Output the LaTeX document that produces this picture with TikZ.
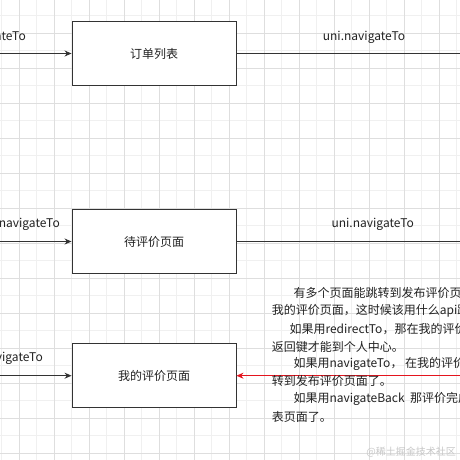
\documentclass[tikz,border=0pt]{standalone}
\usepackage{fontspec}
\setmainfont{Noto Sans CJK SC}
\usetikzlibrary{arrows.meta, positioning}
\definecolor{gridmajor}{RGB}{222, 222, 222}
\definecolor{gridminor}{RGB}{240, 240, 240}
\definecolor{edgegray}{RGB}{51, 51, 51}
\definecolor{textdark}{RGB}{34, 34, 34}
\definecolor{backred}{RGB}{228, 20, 30}
\definecolor{markgray}{RGB}{200, 200, 200}

\tikzset{
  pagebox/.style={draw=edgegray, fill=white, line width=0.9pt, minimum width=164pt, minimum height=64pt, inner sep=0pt, font=\fontsize{12}{14}\selectfont, text=textdark},
  navlabel/.style={inner sep=0pt, font=\fontsize{12}{14}\selectfont, text=textdark},
  paraline/.style={anchor=west, inner sep=0pt, font=\fontsize{12}{14}\selectfont, text=textdark},
  navline/.style={line width=0.9pt, edgegray},
  navarrow/.style={navline, -{Stealth[length=7pt, width=6pt]}},
  backarrow/.style={line width=0.9pt, backred, -{Stealth[length=7pt, width=6pt]}},
}

\begin{document}
\begin{tikzpicture}[x=1pt, y=-1pt]
  % Canvas and grid
  \useasboundingbox (0,0) rectangle (460,460);
  \clip (0,0) rectangle (460,460);
  \fill[white] (0,0) rectangle (460,460);
  \foreach \gx in {1.8, 36.8, ..., 460} \draw[gridminor, line width=0.8pt] (\gx,0) -- (\gx,460);
  \foreach \gy in {15.8, 50.8, ..., 460} \draw[gridminor, line width=0.8pt] (0,\gy) -- (460,\gy);
  \foreach \gx in {19.3, 54.3, ..., 460} \draw[gridmajor, line width=0.8pt] (\gx,0) -- (\gx,460);
  \foreach \gy in {33.3, 68.3, ..., 460} \draw[gridmajor, line width=0.8pt] (0,\gy) -- (460,\gy);

  % Pages
  \node[pagebox] (orderlist) at (154, 53.5) {订单列表};
  \node[pagebox] (pending) at (154, 241.5) {待评价页面};
  \node[pagebox] (myreview) at (154, 375.7) {我的评价页面};

  % Free ends outside the crop
  \coordinate (inA) at (-10, 53.5);
  \coordinate (inB) at (-10, 241.5);
  \coordinate (inC) at (-10, 375.7);
  \coordinate (outA) at (470, 53.5);
  \coordinate (outB) at (470, 241.5);
  \coordinate (backC) at (470, 375.7);

  % Connectors
  \draw[navarrow] (inA) -- (orderlist.west);
  \draw[navarrow] (inB) -- (pending.west);
  \draw[navarrow] (inC) -- (myreview.west);
  \draw[navline] (orderlist.east) -- (outA);
  \draw[navline] (pending.east) -- (outB);
  \draw[backarrow] (backC) -- (myreview.east);

  % Connector labels
  \node[navlabel, anchor=east] (labinA) at (26, 37) {uni.navigateTo};
  \node[navlabel, anchor=east] (labinB) at (60, 224) {uni.navigateTo};
  \node[navlabel, anchor=east] (labinC) at (43, 358) {uni.navigateTo};
  \node[navlabel] (laboutA) at (364, 37) {uni.navigateTo};
  \node[navlabel] (laboutB) at (372.7, 224) {uni.navigateTo};

  % Note
  \node[paraline] (note1) at (293.3, 293.3) {有多个页面能跳转到发布评价页面};
  \node[paraline] (note2) at (271.7, 310.7) {我的评价页面，这时候该用什么api跳};
  \node[paraline] (note3) at (289.3, 329) {如果用redirectTo，那在我的评价页面};
  \node[paraline] (note4) at (271.7, 346.7) {返回键才能到个人中心。};
  \node[paraline] (note5) at (293.3, 364) {如果用navigateTo，\ 在我的评价页面};
  \node[paraline] (note6) at (271.7, 381.3) {转到发布评价页面了。};
  \node[paraline] (note7) at (293.3, 398.7) {如果用navigateBack\ \ 那评价完成};
  \node[paraline] (note8) at (271.7, 416.7) {表页面了。};

  % Watermark
  \node[anchor=east, inner sep=0pt, font=\fontsize{10}{12}\selectfont, text=markgray] (mark) at (456, 451.7) {@稀土掘金技术社区};
\end{tikzpicture}
\end{document}
